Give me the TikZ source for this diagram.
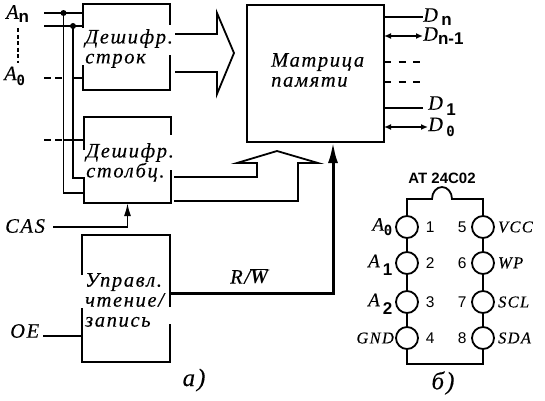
\documentclass[tikz,border=0pt]{standalone}
\usepackage{fontspec}
\setmainfont[LetterSpace=8,ItalicFeatures={FakeBold=0.25}]{Liberation Serif}
\setsansfont{Liberation Sans}
\newfontfamily\zerofont{DejaVu Sans Mono}
\usetikzlibrary{positioning,arrows.meta,calc}
\newcommand{\lblsub}[2][4pt]{\raisebox{-#1}{\fontsize{17}{17}\upshape\sffamily\bfseries #2}}
\newcommand{\lblzero}{\raisebox{-5pt}{\fontsize{14}{14}\upshape\zerofont\bfseries 0}}

\begin{document}
\begin{tikzpicture}[
  x=1pt, y=-1pt,
  font=\fontsize{20.5}{20}\selectfont\itshape,
  block/.style={inner sep=0pt, outer sep=0pt},
  frame/.style={line width=2pt},
  blocktext/.style={align=left, inner sep=0pt, anchor=north west},
  wire/.style={line width=1.8pt},
  dashwire/.style={line width=1.8pt, dash pattern=on 7pt off 4pt},
  sidedash/.style={line width=1.6pt, dash pattern=on 7pt off 7.5pt},
  both/.style={{Latex[length=7pt,width=6pt]}-{Latex[length=7pt,width=6pt]}, line width=1.4pt},
  ctl/.style={-{Latex[length=13pt,width=7pt]}, line width=1.8pt},
  rwbus/.style={-{Latex[length=21pt,width=10pt]}, line width=3pt},
  pin/.style={draw, circle, fill=white, line width=1.8pt, minimum size=22pt, inner sep=0pt},
  pinnum/.style={font=\fontsize{15.5}{15}\sffamily},
  pinname/.style={font=\fontsize{16.5}{15}\selectfont\itshape},
  pinaddr/.style={font=\fontsize{19}{15}\selectfont\itshape, anchor=east, inner sep=0pt, xshift=-2.5pt}
]
\useasboundingbox (0,0) rectangle (545,400);
% ---------- blocks (left) ----------
\node[block, minimum width=87pt, minimum height=86pt] (dec1) at (126.5,47) {};
\node[block, minimum width=87pt, minimum height=86pt] (dec2) at (127.5,160) {};
\node[block, minimum width=87.5pt, minimum height=127pt] (ctrl) at (125.75,298.5) {};
\draw[frame] (dec1.west |- 0,28) |- (dec1.north east) -- (dec1.east |- 0,25);
\draw[frame] (dec1.west |- 0,65) |- (dec1.south east) -- (dec1.east |- 0,55);
\draw[frame] (dec2.west |- 0,150) |- (dec2.north east) -- (dec2.east |- 0,135);
\draw[frame] (dec2.west |- 0,177) |- (dec2.south east) -- (dec2.east |- 0,170);
\draw[frame] (ctrl.west |- 0,275) |- (ctrl.north east) -- (ctrl.east |- 0,307);
\draw[frame] (ctrl.west |- 0,308) |- (ctrl.south east) -- (ctrl.east |- 0,324);
\node[blocktext] (dec1txt) at (85,29) {Дешифр.\\ строк};
\node[blocktext] (dec2txt) at (86,143) {Дешифр.\\ столбц.};
\node[blocktext] (ctrltxt) at (85,273) {Управл.\\ чтение/\\ запись};

% ---------- memory matrix ----------
\node[draw, line width=2pt, block, minimum width=137pt, minimum height=137pt] (mem) at (315.5,73.5) {};
\node[blocktext] (memtxt) at (271,53) {Матрица\\ памяти};

% ---------- address inputs ----------
\node[anchor=west, inner sep=0pt] (an) at (6,14) {A\lblsub{n}};
\node[anchor=west, inner sep=0pt] (a0) at (4,76) {A\lblzero};
\coordinate (an1) at (44,13);
\coordinate (an2) at (44,26);
\coordinate (a0s) at (44,78);
\coordinate (acol) at (44,140);
\coordinate (v1) at (63.5,193);
\coordinate (v2) at (73,178);
\draw[dashwire, dash pattern=on 4pt off 2.5pt] (18,28) -- (18,63);
\draw[wire] (an1) -- (an1 -| dec1.west);
\draw[wire] (an2) -- (an2 -| dec1.west);
\draw[wire] (an1 -| v1) |- (v1 -| dec2.west);
\draw[wire] (an2 -| v2) |- (v2 -| dec2.west);
\fill (an1 -| v1) circle (3pt);
\fill (an2 -| v2) circle (3pt);
\draw[dashwire] (a0s) -- (a0s -| v1);
\draw[wire] (a0s -| v2) -- (a0s -| dec1.west);
\draw[dashwire] (acol) -- (acol -| v1);
\draw[wire] (acol -| v1) -- (acol -| dec2.west);

% ---------- decoder outputs ----------
\draw[wire, line join=miter] (175,34) -- (217,34) -- (217,13) -- (234,53) -- (217,94) -- (217,72) -- (175,72);
\draw[wire, line join=miter] (174,177) -- (257,177) -- (257,163) -- (237,163) -- (277,151) -- (318,163) -- (298,163) -- (298,201) -- (174,201);

% ---------- control ----------
\node[anchor=west, inner sep=0pt] (cas) at (5,226) {CAS};
\node[anchor=west, inner sep=0pt] (oe) at (10,331) {OE};
\coordinate (casr) at (53,227);
\coordinate (oer) at (43,336);
\draw[ctl] (casr) -| (dec2.south);
\draw[wire] (oer) -- (oer -| ctrl.west);
\draw[rwbus] (ctrl.east |- 0,293) -| (333,0 |- mem.south);
\node[anchor=west, inner sep=0pt] (rw) at (230,276) {R/$\overline{\mbox{\bfseries W}}$};
\node[font=\fontsize{25}{25}\selectfont\itshape] (capa) at (194,380) {a)};

% ---------- data outputs ----------
\node[anchor=west, inner sep=0pt] (dn) at (423,17) {D\,\lblsub{n}};
\node[anchor=west, inner sep=0pt] (dn1) at (423,36) {D\lblsub{n-1}};
\node[anchor=west, inner sep=0pt] (d1) at (428,106) {D\,\lblsub[6pt]{1}};
\node[anchor=west, inner sep=0pt] (d0) at (428,127) {D\,\lblzero};
\draw[wire] (mem.east |- dn) -- (dn.west);
\draw[both] (mem.east |- dn1) -- (dn1.west);
\draw[sidedash] (mem.east |- 0,62) -- (423,62);
\draw[sidedash] (mem.east |- 0,82) -- (423,82);
\draw[wire] (mem.east |- 0,108) -- (423,108);
\draw[both] (mem.east |- d0) -- (d0.west);

% ---------- chip ----------
\node[font=\fontsize{15}{15}\sffamily\bfseries] (chipname) at (442,178) {AT 24C02};
\draw[wire] (432,199) -- (407,199) -- (407,364) -- (483,364) -- (483,199) -- (452,199) arc (0:180:10 and -12) -- cycle;
\node[pin] (p1) at (407,227) {};
\node[pin] (p2) at (407,263) {};
\node[pin] (p3) at (407,302) {};
\node[pin] (p4) at (407,338) {};
\node[pin] (p5) at (483,227) {};
\node[pin] (p6) at (483,263) {};
\node[pin] (p7) at (483,302) {};
\node[pin] (p8) at (483,338) {};
\foreach \n in {1,2,3,4}
  \node[pinnum, right=3.5pt of p\n] (n\n) {\n};
\foreach \n in {5,6,7,8}
  \node[pinnum, left=1pt of p\n] (n\n) {\n};
\node[pinaddr] (la0) at (p1.west) {A\lblzero};
\node[pinaddr, yshift=-2pt] (la1) at (p2.west) {A\,\lblsub[8pt]{1}};
\node[pinaddr, yshift=-2pt] (la2) at (p3.west) {A\,\lblsub[8pt]{2}};
\node[pinname, anchor=east, inner sep=0pt, xshift=-1pt] (lgnd) at (p4.west) {GND};
\node[pinname, right=3pt of p5, inner sep=0pt] (lvcc) {VCC};
\node[pinname, right=3pt of p6, inner sep=0pt] (lwp) {WP};
\node[pinname, right=3pt of p7, inner sep=0pt] (lscl) {SCL};
\node[pinname, right=3pt of p8, inner sep=0pt] (lsda) {SDA};
\node[font=\fontsize{25}{25}\selectfont\itshape] (capb) at (443,383) {б)};
\end{tikzpicture}
\end{document}
